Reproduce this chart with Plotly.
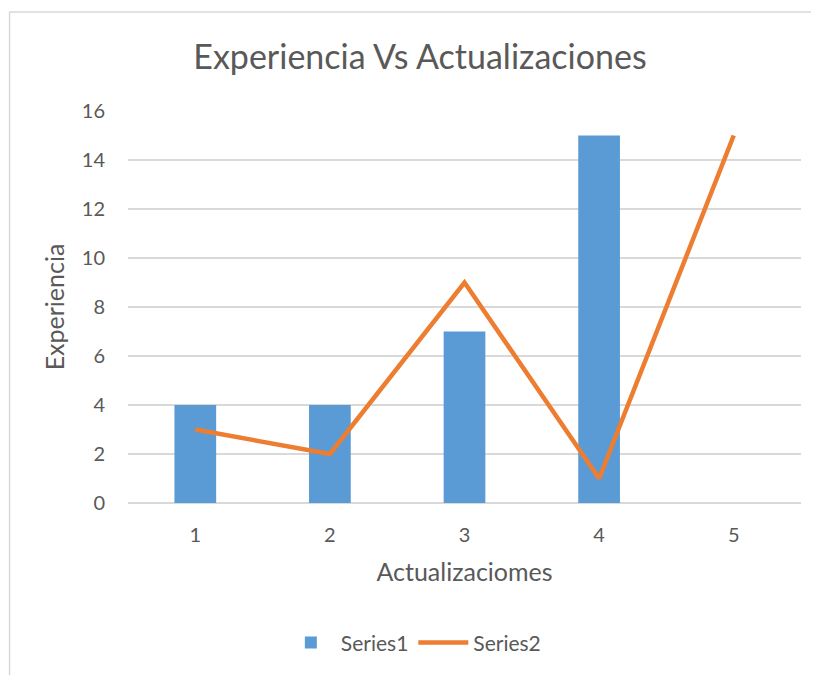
import plotly.graph_objects as go

# categories and series values
categories = ["1", "2", "3", "4", "5"]
series1 = [4, 4, 7, 15, None]
series2 = [3, 2, 9, 1, 15]
y_ticks = [0, 2, 4, 6, 8, 10, 12, 14, 16]

TEXT = "#595959"
GRID = "#D9D9D9"
FONT = "Lato, 'Open Sans', sans-serif"

fig = go.Figure()
fig.add_trace(go.Bar(
    x=categories, y=series1, name="Series1",
    marker=dict(color="#5B9BD5", line=dict(width=0)),
    width=0.31,
))
fig.add_trace(go.Scatter(
    x=categories, y=series2, name="Series2", mode="lines",
    line=dict(color="#ED7D31", width=4.5),
))

# the page has an 8px body margin, so margins are offset to keep the plot where it belongs
fig.update_layout(
    width=819, height=675,
    margin=dict(l=120, r=26, t=103, b=180),
    paper_bgcolor="white", plot_bgcolor="white",
    font=dict(family=FONT, color=TEXT, size=20),
    title=dict(text="Experiencia Vs Actualizaciones", x=0.503, xanchor="center",
               y=0.927, yanchor="middle", font=dict(size=34, color=TEXT)),
    showlegend=True,
    legend=dict(orientation="h", x=0.424, xanchor="center", y=-0.357, yanchor="middle",
                font=dict(size=21, color=TEXT), traceorder="normal", itemwidth=50),
    xaxis=dict(
        type="category", showgrid=False, ticks="", showline=False,
        ticklabelstandoff=18,
        tickfont=dict(size=20, color=TEXT),
        title=dict(text="Actualizaciomes", font=dict(size=25, color=TEXT), standoff=18),
    ),
    yaxis=dict(
        range=[0, 16], tickvals=y_ticks, showgrid=True, gridcolor=GRID, gridwidth=1.5,
        zeroline=True, zerolinecolor=GRID, zerolinewidth=1.5, ticks="",
        ticklabelstandoff=22,
        tickfont=dict(size=20, color=TEXT),
        title=dict(text="Experiencia", font=dict(size=25, color=TEXT), standoff=10),
    ),
    shapes=[dict(type="rect", xref="paper", yref="paper",
                 x0=-0.176, x1=1.03, y0=-0.45, y1=1.2526,
                 line=dict(color=GRID, width=1.5), layer="below")],
)

fig.write_html("out.html")
